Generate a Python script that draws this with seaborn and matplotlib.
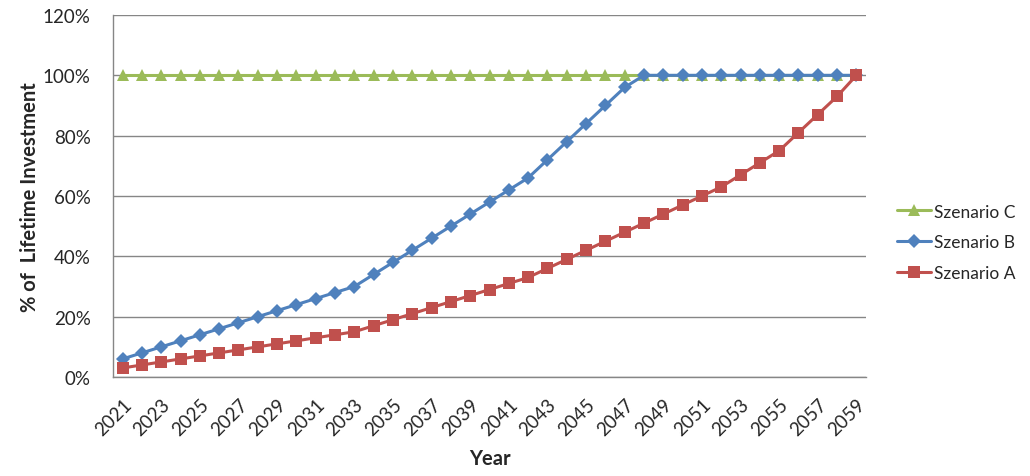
import numpy as np
import pandas as pd
import matplotlib
matplotlib.use("Agg")
import matplotlib.pyplot as plt
import seaborn as sns
from matplotlib.ticker import FixedLocator, FuncFormatter

# Daten (Prozent des Lifetime Investment)
years = list(range(2021, 2060))
szenario_c = [100] * 39
szenario_b = [6, 8, 10, 12, 14, 16, 18, 20, 22, 24, 26, 28, 30, 34, 38, 42, 46, 50, 54, 58,
              62, 66, 72, 78, 84, 90, 96, 100, 100, 100, 100, 100, 100, 100, 100, 100, 100, 100, 100]
szenario_a = [3, 4, 5, 6, 7, 8, 9, 10, 11, 12, 13, 14, 15, 17, 19, 21, 23, 25, 27, 29,
              31, 33, 36, 39, 42, 45, 48, 51, 54, 57, 60, 63, 67, 71, 75, 81, 87, 93, 100]
series_names = ["Szenario C", "Szenario B", "Szenario A"]
y_ticks = [0, 20, 40, 60, 80, 100, 120]

sns.set_style("white")
plt.rcParams['font.family'] = ['Lato', 'DejaVu Sans']

df = pd.DataFrame({
    "idx": list(range(len(years))) * 3,
    "value": szenario_c + szenario_b + szenario_a,
    "series": [s for s in series_names for _ in years],
})

colors = {"Szenario C": "#9BBB59", "Szenario B": "#4F81BD", "Szenario A": "#C0504D"}
markers = {"Szenario C": "^", "Szenario B": "D", "Szenario A": "s"}
msizes = {"Szenario C": 8.5, "Szenario B": 7, "Szenario A": 9}

fig = plt.figure(figsize=(10.3, 4.77), dpi=100)
ax = fig.add_axes([0.1097, 0.2075, 0.7311, 0.759])

for name in series_names:
    sub = df[df["series"] == name]
    sns.lineplot(data=sub, x="idx", y="value", ax=ax, color=colors[name], linewidth=2.2,
                 marker=markers[name], markersize=msizes[name], markeredgewidth=0,
                 label=name)

ax.set_xlim(-0.5, len(years) - 0.5)
ax.set_ylim(0, 120)
ax.set_yticks(y_ticks)
ax.yaxis.set_major_formatter(FuncFormatter(lambda v, p: f"{v:.0f}%"))
ax.yaxis.grid(True, color="#868686", linewidth=1)
ax.set_axisbelow(True)

# x-Achse: Beschriftung jedes zweite Jahr, Striche zwischen den Kategorien
label_pos = list(range(0, len(years), 2))
ax.xaxis.set_major_locator(FixedLocator(label_pos))
ax.set_xticklabels([str(years[i]) for i in label_pos], rotation=45, ha="right",
                   va="top", rotation_mode="anchor")
ax.xaxis.set_minor_locator(FixedLocator([i - 0.5 for i in label_pos]))
ax.tick_params(axis="x", which="major", length=0, pad=13, labelsize=13.5)
ax.tick_params(axis="x", which="minor", length=6, color="#868686", width=1, direction="out")
ax.tick_params(axis="y", length=6, color="#868686", width=1, direction="out",
               labelsize=13.5, pad=10)

for side in ["top", "right"]:
    ax.spines[side].set_visible(False)
for side in ["left", "bottom"]:
    ax.spines[side].set_color("#868686")
    ax.spines[side].set_linewidth(1)

ax.set_xlabel("Year", fontsize=14.5, fontweight="bold", labelpad=7)
ax.set_ylabel("% of  Lifetime Investment", fontsize=14.5, fontweight="bold", labelpad=2)

ax.get_legend().remove()
handles, labels = ax.get_legend_handles_labels()
fig.legend(handles, labels, loc="center left", bbox_to_anchor=(0.871, 0.49), frameon=False,
           fontsize=12.5, handlelength=1.95, handletextpad=0.15, labelspacing=0.85,
           borderaxespad=0, borderpad=0)

fig.savefig("out.png", dpi=100)
